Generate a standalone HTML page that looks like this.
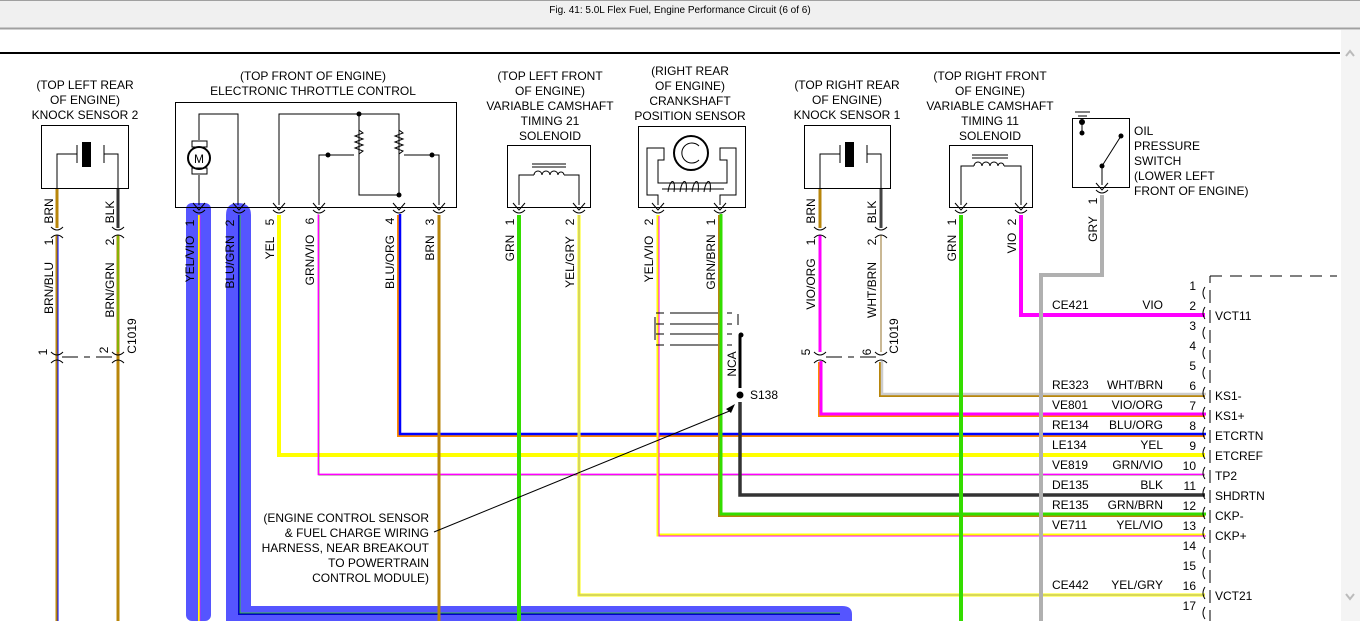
<!DOCTYPE html>
<html><head><meta charset="utf-8"><style>
html,body{margin:0;padding:0;background:#fff;width:1360px;height:621px;overflow:hidden}
svg{display:block}
text{font-family:"Liberation Sans",sans-serif;font-size:12px;fill:#000}
.t{font-size:12.5px}
</style></head><body>
<svg width="1360" height="621" viewBox="0 0 1360 621" xmlns="http://www.w3.org/2000/svg">
<!-- header -->
<rect x="0" y="0" width="1360" height="28" fill="#f0f0f0"/>
<line x1="0" y1="0.5" x2="1360" y2="0.5" stroke="#a0a0a0"/>
<line x1="0" y1="28.5" x2="1360" y2="28.5" stroke="#a0a0a0" stroke-width="2"/>
<text x="680" y="13" font-size="10" text-anchor="middle" style="font-size:10px">Fig. 41: 5.0L Flex Fuel, Engine Performance Circuit (6 of 6)</text>
<rect x="1341" y="30" width="19" height="591" fill="#f4f4f4"/>
<path d="M1346 56 L1350 51 L1354 56" fill="none" stroke="#bbb" stroke-width="2"/>
<path d="M1346 594 L1350 599 L1354 594" fill="none" stroke="#bbb" stroke-width="2"/>
<line x1="0" y1="53" x2="1340" y2="53" stroke="#000" stroke-width="2"/>

<!-- blue harness -->
<rect x="186" y="203" width="25" height="418" fill="#5555ff" rx="6"/>
<path d="M226 215 Q226 203 238 203 Q251 203 251 215 V606 H842 Q852 606 852 614 V621 H226 Z" fill="#5555ff"/>

<g fill="none" stroke-linejoin="miter">
<!-- Knock sensor 2 wires -->
<line x1="57" y1="188" x2="57" y2="228" stroke="#b8860b" stroke-width="3"/>
<line x1="57" y1="235" x2="57" y2="621" stroke="#b8860b" stroke-width="3"/>
<line x1="58" y1="235" x2="58" y2="621" stroke="#0000ff" stroke-width="1"/>
<line x1="118" y1="188" x2="118" y2="228" stroke="#333" stroke-width="3"/>
<line x1="118" y1="235" x2="118" y2="621" stroke="#b8860b" stroke-width="3"/>
<line x1="118" y1="235" x2="118" y2="352" stroke="#55dd00" stroke-width="1"/>
<path d="M62 357 H78 M84 357 H90 M96 357 H112" stroke="#000"/>

<!-- ETC wires inside harness -->
<line x1="199" y1="215" x2="199" y2="621" stroke="#ffff00" stroke-width="2"/>
<line x1="200" y1="215" x2="200" y2="621" stroke="#ff00ff" stroke-width="0.6"/>
<path d="M239 215 V614 H840" stroke="#0000cc" stroke-width="2"/>
<path d="M240 215 V613 H840" stroke="#33dd00" stroke-width="0.8"/>

<!-- row wires -->
<path d="M279 215 V455 H1205" stroke="#ffff00" stroke-width="4"/>
<path d="M319 215 V475 H1205" stroke="#33dd00" stroke-width="1"/>
<path d="M319 215 V475 H1205" stroke="#ff00ff" stroke-width="1.6" transform="translate(-0.6,-0.6)"/>
<path d="M399 215 V435 H1205" stroke="#ff8800" stroke-width="4"/>
<path d="M399 215 V435 H1205" stroke="#0000ff" stroke-width="2.5" transform="translate(1,-1)"/>
<line x1="439" y1="215" x2="439" y2="621" stroke="#b8860b" stroke-width="3"/>

<line x1="519" y1="215" x2="519" y2="621" stroke="#33dd00" stroke-width="4"/>
<path d="M579 215 V595 H1205" stroke="#ffff00" stroke-width="3"/>
<path d="M579 215 V595 H1205" stroke="#b0b0b0" stroke-width="1"/>

<path d="M658 215 V535 H1205" stroke="#ffff00" stroke-width="3"/>
<path d="M658 215 V535 H1205" stroke="#ff00ff" stroke-width="1" transform="translate(1,1)"/>
<path d="M720 215 V515 H1205" stroke="#b8860b" stroke-width="4"/>
<path d="M720 215 V515 H1205" stroke="#33dd00" stroke-width="3" transform="translate(1,-1)"/>
<line x1="740" y1="335" x2="740" y2="388" stroke="#000" stroke-width="3"/>
<path d="M740 402 V495 H1205" stroke="#333" stroke-width="3.5"/>

<line x1="820" y1="188" x2="820" y2="228" stroke="#b8860b" stroke-width="3"/>
<line x1="820" y1="235" x2="820" y2="352" stroke="#ff00ff" stroke-width="3"/>
<path d="M820 362 V415 H1205" stroke="#ff8800" stroke-width="4"/>
<path d="M820 362 V415 H1205" stroke="#ff00ff" stroke-width="3" transform="translate(1,-1)"/>
<line x1="881" y1="188" x2="881" y2="228" stroke="#444" stroke-width="3"/>
<line x1="881" y1="235" x2="881" y2="352" stroke="#b8a070" stroke-width="1.5"/>
<path d="M881 362 V395 H1205" stroke="#b8860b" stroke-width="4"/>
<path d="M881 362 V395 H1205" stroke="#cccccc" stroke-width="2.5" transform="translate(1,-1)"/>
<path d="M826 357 H842 M848 357 H854 M860 357 H876" stroke="#000"/>

<line x1="961" y1="215" x2="961" y2="621" stroke="#33dd00" stroke-width="4"/>
<path d="M1021 215 V315 H1205" stroke="#ff00ff" stroke-width="4"/>
<path d="M1102 195 V275 H1041 V621" stroke="#b0b0b0" stroke-width="4"/>

<!-- leader -->
<line x1="434" y1="532" x2="732" y2="410" stroke="#000" stroke-width="1"/>
</g>
<path d="M735 404 L726 409 L731 413 Z" fill="#000"/>
<circle cx="740" cy="395" r="3.5" fill="#000"/>
<text x="750" y="399">S138</text>

<!-- boxes -->
<g fill="none" stroke="#000" stroke-width="1">
<rect x="41.5" y="125.5" width="87" height="63"/>
<path d="M57 188 V154 H77 M104 154 H118 V188 M77 145 V163 M104 145 V163"/>
<rect x="175.5" y="102.5" width="281" height="105"/>
<path d="M199 205 V175 M199 140 V114 H238 V205"/>
<rect x="192" y="141" width="15" height="6"/><rect x="192" y="168" width="15" height="6"/>
<circle cx="199" cy="158" r="11" stroke-width="2"/>
<path d="M279 205 V114 H399 V195 H359 V114 M319 205 V155 H354 M439 205 V155 H404"/>
<path d="M359 130 l4 3 -8 3 8 3 -8 3 8 3 -8 3 8 3 -4 3 M399 130 l4 3 -8 3 8 3 -8 3 8 3 -8 3 8 3 -4 3"/>
<rect x="507.5" y="145.5" width="83" height="62"/>
<path d="M519 205 V175 H534 M564 175 H579 V205 M532 164 H566 M532 167 H566"/>
<path d="M534 175 a4 4 0 0 1 8 0 a4 4 0 0 1 8 0 a4 4 0 0 1 8 0 a3 3 0 0 1 6 0"/>
<rect x="638.5" y="126.5" width="107" height="81"/>
<path d="M658 205 V195 H647 V148 H664 V160 H658 V183 H727 V160 H720 V148 H736 V195 H720 V205"/>
<circle cx="691" cy="153" r="17" stroke-width="2"/>
<path d="M699 160 A10 10 0 1 1 699 146"/>
<path d="M668 192 c2 -14 8 -14 6 0 M680 192 c2 -14 8 -14 6 0 M692 192 c2 -14 8 -14 6 0 M704 192 c2 -14 8 -14 6 0 M662 189 H724"/>
<rect x="804.5" y="125.5" width="86" height="63"/>
<path d="M820 188 V154 H840 M867 154 H881 V188 M840 145 V163 M867 145 V163"/>
<rect x="949.5" y="145.5" width="83" height="62"/>
<path d="M961 205 V166 H974 M1004 166 H1021 V205 M972 155 H1008 M972 158 H1008"/>
<path d="M974 166 a4 4 0 0 1 8 0 a4 4 0 0 1 8 0 a4 4 0 0 1 8 0 a3 3 0 0 1 6 0"/>
<rect x="1072.5" y="118.5" width="57" height="69"/>
<path d="M1082 120 V133 M1102 185 V166 L1121 136 M1075 112 H1090 M1078 116 H1087"/>
<!-- shield -->
<path d="M656 313 H664 M670 313 H718 M656 324 H664 M670 324 H718 M656 334 H664 M670 334 H718 M656 345 H664 M670 345 H718 M727 313 H732 M727 324 H732 M727 334 H732 M727 345 H732 M655 317 V340 M738 314 V325"/>
<!-- connector right -->
<path d="M1210 276 H1337" stroke-dasharray="12,8"/>
</g>
<g fill="#000">
<rect x="82" y="142" width="9" height="25"/>
<rect x="845" y="142" width="9" height="25"/>
<circle cx="359" cy="114" r="2.5"/><circle cx="399" cy="195" r="2.5"/>
<circle cx="328" cy="155" r="2.5"/><circle cx="432" cy="155" r="2.5"/>
<circle cx="1082" cy="122" r="3"/><circle cx="1082" cy="133" r="2.5"/>
<circle cx="1121" cy="136" r="2.5"/><circle cx="1102" cy="166" r="2.5"/>
<circle cx="741" cy="335" r="2.5"/>
</g>
<text x="199" y="163" text-anchor="middle" font-size="12">M</text>
<!-- connector pins glyphs -->
<g fill="none" stroke="#000" stroke-width="1">
<path d="M193 203 l6 7 6 -7 M233 203 l6 7 6 -7 M273 203 l6 7 6 -7 M313 203 l6 7 6 -7 M393 203 l6 7 6 -7 M433 203 l6 7 6 -7"/>
<path d="M513 203 l6 7 6 -7 M573 203 l6 7 6 -7 M652 203 l6 7 6 -7 M714 203 l6 7 6 -7 M955 203 l6 7 6 -7 M1015 203 l6 7 6 -7 M1096 183 l6 7 6 -7"/>
<path d="M193 210 q6 6 12 0 M233 210 q6 6 12 0 M273 210 q6 6 12 0 M313 210 q6 6 12 0 M393 210 q6 6 12 0 M433 210 q6 6 12 0 M513 210 q6 6 12 0 M573 210 q6 6 12 0 M652 210 q6 6 12 0 M714 210 q6 6 12 0 M955 210 q6 6 12 0 M1015 210 q6 6 12 0 M1096 190 q6 6 12 0"/>
<path d="M51 227 q6 6 12 0 M51 238 q6 -6 12 0 M112 227 q6 6 12 0 M112 238 q6 -6 12 0 M814 227 q6 6 12 0 M814 238 q6 -6 12 0 M875 227 q6 6 12 0 M875 238 q6 -6 12 0"/>
<path d="M51 352 q6 6 12 0 M51 363 q6 -6 12 0 M112 352 q6 6 12 0 M112 363 q6 -6 12 0 M814 352 q6 6 12 0 M814 363 q6 -6 12 0 M875 352 q6 6 12 0 M875 363 q6 -6 12 0"/>
<path d="M1205 287 q-4 6 0 12 M1205 307 q-4 6 0 12 M1205 327 q-4 6 0 12 M1205 347 q-4 6 0 12 M1205 367 q-4 6 0 12 M1205 387 q-4 6 0 12 M1205 407 q-4 6 0 12 M1205 427 q-4 6 0 12 M1205 447 q-4 6 0 12 M1205 467 q-4 6 0 12 M1205 487 q-4 6 0 12 M1205 507 q-4 6 0 12 M1205 527 q-4 6 0 12 M1205 547 q-4 6 0 12 M1205 567 q-4 6 0 12 M1205 587 q-4 6 0 12 M1205 607 q-4 6 0 12"/>
<path d="M1210 276 V283 M1210 290 V303 M1210 310 V323 M1210 330 V343 M1210 350 V363 M1210 370 V383 M1210 390 V403 M1210 410 V423 M1210 430 V443 M1210 450 V463 M1210 470 V483 M1210 490 V503 M1210 510 V523 M1210 530 V543 M1210 550 V563 M1210 570 V583 M1210 590 V603 M1210 610 V621"/>
</g>

<!-- headings -->
<g text-anchor="middle" class="t">
<text x="85" y="89">(TOP LEFT REAR</text><text x="85" y="104">OF ENGINE)</text><text x="85" y="119">KNOCK SENSOR 2</text>
<text x="313" y="80">(TOP FRONT OF ENGINE)</text><text x="313" y="95">ELECTRONIC THROTTLE CONTROL</text>
<text x="550" y="80">(TOP LEFT FRONT</text><text x="550" y="95">OF ENGINE)</text><text x="550" y="110">VARIABLE CAMSHAFT</text><text x="550" y="125">TIMING 21</text><text x="550" y="140">SOLENOID</text>
<text x="690" y="75">(RIGHT REAR</text><text x="690" y="90">OF ENGINE)</text><text x="690" y="105">CRANKSHAFT</text><text x="690" y="120">POSITION SENSOR</text>
<text x="847" y="89">(TOP RIGHT REAR</text><text x="847" y="104">OF ENGINE)</text><text x="847" y="119">KNOCK SENSOR 1</text>
<text x="990" y="80">(TOP RIGHT FRONT</text><text x="990" y="95">OF ENGINE)</text><text x="990" y="110">VARIABLE CAMSHAFT</text><text x="990" y="125">TIMING 11</text><text x="990" y="140">SOLENOID</text>
</g>
<g class="t">
<text x="1134" y="135">OIL</text><text x="1134" y="150">PRESSURE</text><text x="1134" y="165">SWITCH</text><text x="1134" y="180">(LOWER LEFT</text><text x="1134" y="195">FRONT OF ENGINE)</text>
</g>
<g text-anchor="end" class="t">
<text x="429" y="522">(ENGINE CONTROL SENSOR</text><text x="429" y="537">&amp; FUEL CHARGE WIRING</text><text x="429" y="552">HARNESS, NEAR BREAKOUT</text><text x="429" y="567">TO POWERTRAIN</text><text x="429" y="582">CONTROL MODULE)</text>
</g>

<!-- rotated wire labels: (x,y center) -->
<g text-anchor="middle">
<text transform="translate(53,211) rotate(-90)">BRN</text>
<text transform="translate(53,242) rotate(-90)">1</text>
<text transform="translate(53,288) rotate(-90)">BRN/BLU</text>
<text transform="translate(114,212) rotate(-90)">BLK</text>
<text transform="translate(114,242) rotate(-90)">2</text>
<text transform="translate(114,290) rotate(-90)">BRN/GRN</text>
<text transform="translate(136,336) rotate(-90)">C1019</text>
<text transform="translate(47,352) rotate(-90)">1</text>
<text transform="translate(108,350) rotate(-90)">2</text>
<text transform="translate(194,223) rotate(-90)">1</text>
<text transform="translate(194,259) rotate(-90)">YEL/VIO</text>
<text transform="translate(234,223) rotate(-90)">2</text>
<text transform="translate(234,262) rotate(-90)">BLU/GRN</text>
<text transform="translate(274,222) rotate(-90)">5</text>
<text transform="translate(274,248) rotate(-90)">YEL</text>
<text transform="translate(314,221) rotate(-90)">6</text>
<text transform="translate(314,260) rotate(-90)">GRN/VIO</text>
<text transform="translate(394,221) rotate(-90)">4</text>
<text transform="translate(394,262) rotate(-90)">BLU/ORG</text>
<text transform="translate(434,222) rotate(-90)">3</text>
<text transform="translate(434,248) rotate(-90)">BRN</text>
<text transform="translate(514,222) rotate(-90)">1</text>
<text transform="translate(514,248) rotate(-90)">GRN</text>
<text transform="translate(574,222) rotate(-90)">2</text>
<text transform="translate(574,262) rotate(-90)">YEL/GRY</text>
<text transform="translate(653,222) rotate(-90)">2</text>
<text transform="translate(653,259) rotate(-90)">YEL/VIO</text>
<text transform="translate(715,222) rotate(-90)">1</text>
<text transform="translate(715,262) rotate(-90)">GRN/BRN</text>
<text transform="translate(736,364) rotate(-90)">NCA</text>
<text transform="translate(815,211) rotate(-90)">BRN</text>
<text transform="translate(815,242) rotate(-90)">1</text>
<text transform="translate(815,284) rotate(-90)">VIO/ORG</text>
<text transform="translate(876,212) rotate(-90)">BLK</text>
<text transform="translate(876,242) rotate(-90)">2</text>
<text transform="translate(876,290) rotate(-90)">WHT/BRN</text>
<text transform="translate(898,336) rotate(-90)">C1019</text>
<text transform="translate(810,352) rotate(-90)">5</text>
<text transform="translate(871,352) rotate(-90)">6</text>
<text transform="translate(956,222) rotate(-90)">1</text>
<text transform="translate(956,248) rotate(-90)">GRN</text>
<text transform="translate(1016,222) rotate(-90)">2</text>
<text transform="translate(1016,243) rotate(-90)">VIO</text>
<text transform="translate(1097,201) rotate(-90)">1</text>
<text transform="translate(1097,229) rotate(-90)">GRY</text>
</g>

<!-- connector table -->
<g class="t">
<text x="1052" y="309">CE421</text>
<text x="1052" y="389">RE323</text>
<text x="1052" y="409">VE801</text>
<text x="1052" y="429">RE134</text>
<text x="1052" y="449">LE134</text>
<text x="1052" y="469">VE819</text>
<text x="1052" y="489">DE135</text>
<text x="1052" y="509">RE135</text>
<text x="1052" y="529">VE711</text>
<text x="1052" y="589">CE442</text>
</g>
<g class="t" text-anchor="end">
<text x="1163" y="309">VIO</text>
<text x="1163" y="389">WHT/BRN</text>
<text x="1163" y="409">VIO/ORG</text>
<text x="1163" y="429">BLU/ORG</text>
<text x="1163" y="449">YEL</text>
<text x="1163" y="469">GRN/VIO</text>
<text x="1163" y="489">BLK</text>
<text x="1163" y="509">GRN/BRN</text>
<text x="1163" y="529">YEL/VIO</text>
<text x="1163" y="589">YEL/GRY</text>
<text x="1196" y="290">1</text><text x="1196" y="310">2</text><text x="1196" y="330">3</text><text x="1196" y="350">4</text>
<text x="1196" y="370">5</text><text x="1196" y="390">6</text><text x="1196" y="410">7</text><text x="1196" y="430">8</text>
<text x="1196" y="450">9</text><text x="1196" y="470">10</text><text x="1196" y="490">11</text><text x="1196" y="510">12</text>
<text x="1196" y="530">13</text><text x="1196" y="550">14</text><text x="1196" y="570">15</text><text x="1196" y="590">16</text>
<text x="1196" y="610">17</text>
</g>
<g class="t">
<text x="1215" y="320">VCT11</text>
<text x="1215" y="400">KS1-</text>
<text x="1215" y="420">KS1+</text>
<text x="1215" y="440">ETCRTN</text>
<text x="1215" y="460">ETCREF</text>
<text x="1215" y="480">TP2</text>
<text x="1215" y="500">SHDRTN</text>
<text x="1215" y="520">CKP-</text>
<text x="1215" y="540">CKP+</text>
<text x="1215" y="600">VCT21</text>
</g>
</svg>
</body></html>
